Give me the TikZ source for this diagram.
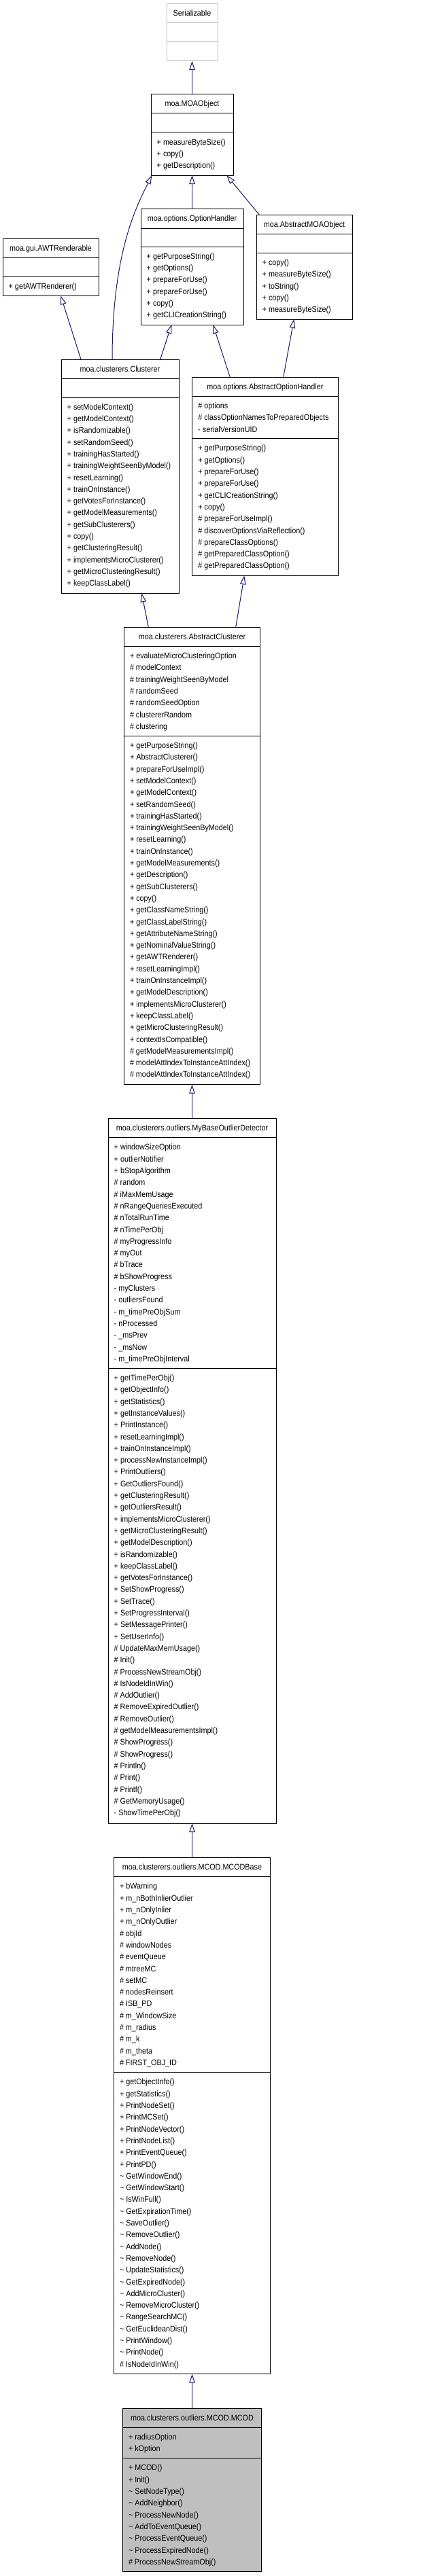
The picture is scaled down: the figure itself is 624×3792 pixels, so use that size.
\documentclass[tikz,border=0pt]{standalone}
\usepackage{fontspec}
\setmainfont{Liberation Sans}[FakeStretch=0.9]
\usetikzlibrary{arrows.meta}
\definecolor{edgeblue}{HTML}{191970}
\definecolor{extgray}{HTML}{BFBFBF}
\newcommand{\tl}{\textasciitilde{} }
\tikzset{
  cls/.style={draw=black, line width=1pt, inner sep=0pt, outer sep=0pt, anchor=north west},
  sepline/.style={draw=black, line width=1pt},
  ttl/.style={anchor=base, inner sep=0pt, font=\fontsize{12}{17.3}\selectfont},
  lst/.style={anchor=north west, inner sep=0pt, align=left, yshift=12.11pt, font=\fontsize{12}{17.3}\selectfont},
  inh/.style={draw=edgeblue, line width=1pt, -{Triangle[open, length=13pt, width=8.5pt]}},
}
\begin{document}
\begin{tikzpicture}[x=1pt, y=-1pt]
\useasboundingbox (0,0) rectangle (624,3792);

% Serializable
\node[cls, draw=extgray, minimum width=75pt, minimum height=84.3pt] (serial) at (245,5.7) {};
\draw[sepline, draw=extgray] (245,33.7) -- (320,33.7);
\draw[sepline, draw=extgray] (245,61.7) -- (320,61.7);
\node[ttl] (serialT) at (282.5,23.7) {Serializable};

% MOAObject
\node[cls, minimum width=121pt, minimum height=119pt] (moaobj) at (222,139) {};
\draw[sepline] (222,167) -- (343,167);
\draw[sepline] (222,195) -- (343,195);
\node[ttl] (moaobjT) at (282.5,157) {moa.MOAObject};
\node[lst] (moaobjM) at (230.5,213) {\strut + measureByteSize()\\+ copy()\\+ getDescription()};

% OptionHandler
\node[cls, minimum width=151pt, minimum height=171pt] (opth) at (207,307) {};
\draw[sepline] (207,336) -- (358,336);
\draw[sepline] (207,363) -- (358,363);
\node[ttl] (opthT) at (282.5,325) {moa.options.OptionHandler};
\node[lst] (opthM) at (215.5,381) {\strut + getPurposeString()\\+ getOptions()\\+ prepareForUse()\\+ prepareForUse()\\+ copy()\\+ getCLICreationString()};

% AbstractMOAObject
\node[cls, minimum width=141pt, minimum height=153.3pt] (amoa) at (377,316.7) {};
\draw[sepline] (377,344.3) -- (518,344.3);
\draw[sepline] (377,372.3) -- (518,372.3);
\node[ttl] (amoaT) at (447.5,334.7) {moa.AbstractMOAObject};
\node[lst] (amoaM) at (385.5,390.3) {\strut + copy()\\+ measureByteSize()\\+ toString()\\+ copy()\\+ measureByteSize()};

% AWTRenderable
\node[cls, minimum width=141pt, minimum height=84.3pt] (awt) at (4,351) {};
\draw[sepline] (4,379) -- (145,379);
\draw[sepline] (4,407.3) -- (145,407.3);
\node[ttl] (awtT) at (74.5,369) {moa.gui.AWTRenderable};
\node[lst] (awtM) at (12.5,425.3) {\strut + getAWTRenderer()};

% Clusterer
\node[cls, minimum width=173pt, minimum height=344.3pt] (clus) at (90,529) {};
\draw[sepline] (90,557) -- (263,557);
\draw[sepline] (90,585) -- (263,585);
\node[ttl] (clusT) at (176.5,547) {moa.clusterers.Clusterer};
\node[lst] (clusM) at (98.5,603) {\strut + setModelContext()\\+ getModelContext()\\+ isRandomizable()\\+ setRandomSeed()\\+ trainingHasStarted()\\+ trainingWeightSeenByModel()\\+ resetLearning()\\+ trainOnInstance()\\+ getVotesForInstance()\\+ getModelMeasurements()\\+ getSubClusterers()\\+ copy()\\+ getClusteringResult()\\+ implementsMicroClusterer()\\+ getMicroClusteringResult()\\+ keepClassLabel()};

% AbstractOptionHandler
\node[cls, minimum width=214.3pt, minimum height=292pt] (aoh) at (282.7,555.3) {};
\draw[sepline] (282.7,583.3) -- (497,583.3);
\draw[sepline] (282.7,645.7) -- (497,645.7);
\node[ttl] (aohT) at (389.85,573.3) {moa.options.AbstractOptionHandler};
\node[lst] (aohA) at (291.2,601.3) {\strut \# options\\\# classOptionNamesToPreparedObjects\\- serialVersionUID};
\node[lst] (aohM) at (291.2,663.7) {\strut + getPurposeString()\\+ getOptions()\\+ prepareForUse()\\+ prepareForUse()\\+ getCLICreationString()\\+ copy()\\\# prepareForUseImpl()\\\# discoverOptionsViaReflection()\\\# prepareClassOptions()\\\# getPreparedClassOption()\\\# getPreparedClassOption()};

% AbstractClusterer
\node[cls, minimum width=200.4pt, minimum height=673.4pt] (acl) at (182.3,923.3) {};
\draw[sepline] (182.3,951.3) -- (382.7,951.3);
\draw[sepline] (182.3,1083.3) -- (382.7,1083.3);
\node[ttl] (aclT) at (282.5,941.3) {moa.clusterers.AbstractClusterer};
\node[lst] (aclA) at (190.8,969.3) {\strut + evaluateMicroClusteringOption\\\# modelContext\\\# trainingWeightSeenByModel\\\# randomSeed\\\# randomSeedOption\\\# clustererRandom\\\# clustering};
\node[lst] (aclM) at (190.8,1101.3) {\strut + getPurposeString()\\+ AbstractClusterer()\\+ prepareForUseImpl()\\+ setModelContext()\\+ getModelContext()\\+ setRandomSeed()\\+ trainingHasStarted()\\+ trainingWeightSeenByModel()\\+ resetLearning()\\+ trainOnInstance()\\+ getModelMeasurements()\\+ getDescription()\\+ getSubClusterers()\\+ copy()\\+ getClassNameString()\\+ getClassLabelString()\\+ getAttributeNameString()\\+ getNominalValueString()\\+ getAWTRenderer()\\+ resetLearningImpl()\\+ trainOnInstanceImpl()\\+ getModelDescription()\\+ implementsMicroClusterer()\\+ keepClassLabel()\\+ getMicroClusteringResult()\\+ contextIsCompatible()\\\# getModelMeasurementsImpl()\\\# modelAttIndexToInstanceAttIndex()\\\# modelAttIndexToInstanceAttIndex()};

% MyBaseOutlierDetector
\node[cls, minimum width=247pt, minimum height=1037.3pt] (mybase) at (159,1646.7) {};
\draw[sepline] (159,1674.7) -- (406,1674.7);
\draw[sepline] (159,2014.3) -- (406,2014.3);
\node[ttl] (mybaseT) at (282.5,1664.7) {moa.clusterers.outliers.MyBaseOutlierDetector};
\node[lst] (mybaseA) at (167.5,1692.7) {\strut + windowSizeOption\\+ outlierNotifier\\+ bStopAlgorithm\\\# random\\\# iMaxMemUsage\\\# nRangeQueriesExecuted\\\# nTotalRunTime\\\# nTimePerObj\\\# myProgressInfo\\\# myOut\\\# bTrace\\\# bShowProgress\\- myClusters\\- outliersFound\\- m\_timePreObjSum\\- nProcessed\\- \_msPrev\\- \_msNow\\- m\_timePreObjInterval};
\node[lst] (mybaseM) at (167.5,2032.3) {\strut + getTimePerObj()\\+ getObjectInfo()\\+ getStatistics()\\+ getInstanceValues()\\+ PrintInstance()\\+ resetLearningImpl()\\+ trainOnInstanceImpl()\\+ processNewInstanceImpl()\\+ PrintOutliers()\\+ GetOutliersFound()\\+ getClusteringResult()\\+ getOutliersResult()\\+ implementsMicroClusterer()\\+ getMicroClusteringResult()\\+ getModelDescription()\\+ isRandomizable()\\+ keepClassLabel()\\+ getVotesForInstance()\\+ SetShowProgress()\\+ SetTrace()\\+ SetProgressInterval()\\+ SetMessagePrinter()\\+ SetUserInfo()\\\# UpdateMaxMemUsage()\\\# Init()\\\# ProcessNewStreamObj()\\\# IsNodeIdInWin()\\\# AddOutlier()\\\# RemoveExpiredOutlier()\\\# RemoveOutlier()\\\# getModelMeasurementsImpl()\\\# ShowProgress()\\\# ShowProgress()\\\# Println()\\\# Print()\\\# Printf()\\\# GetMemoryUsage()\\- ShowTimePerObj()};

% MCODBase
\node[cls, minimum width=230.4pt, minimum height=760pt] (mcodbase) at (167.3,2734.7) {};
\draw[sepline] (167.3,2762.7) -- (397.7,2762.7);
\draw[sepline] (167.3,3050.7) -- (397.7,3050.7);
\node[ttl] (mcodbaseT) at (282.5,2752.7) {moa.clusterers.outliers.MCOD.MCODBase};
\node[lst] (mcodbaseA) at (175.8,2780.7) {\strut + bWarning\\+ m\_nBothInlierOutlier\\+ m\_nOnlyInlier\\+ m\_nOnlyOutlier\\\# objId\\\# windowNodes\\\# eventQueue\\\# mtreeMC\\\# setMC\\\# nodesReinsert\\\# ISB\_PD\\\# m\_WindowSize\\\# m\_radius\\\# m\_k\\\# m\_theta\\\# FIRST\_OBJ\_ID};
\node[lst] (mcodbaseM) at (175.8,3068.7) {\strut + getObjectInfo()\\+ getStatistics()\\+ PrintNodeSet()\\+ PrintMCSet()\\+ PrintNodeVector()\\+ PrintNodeList()\\+ PrintEventQueue()\\+ PrintPD()\\\tl GetWindowEnd()\\\tl GetWindowStart()\\\tl IsWinFull()\\\tl GetExpirationTime()\\\tl SaveOutlier()\\\tl RemoveOutlier()\\\tl AddNode()\\\tl RemoveNode()\\\tl UpdateStatistics()\\\tl GetExpiredNode()\\\tl AddMicroCluster()\\\tl RemoveMicroCluster()\\\tl RangeSearchMC()\\\tl GetEuclideanDist()\\\tl PrintWindow()\\\tl PrintNode()\\\# IsNodeIdInWin()};

% MCOD
\node[cls, fill=extgray, minimum width=204.4pt, minimum height=240.3pt] (mcod) at (180.3,3545) {};
\draw[sepline] (180.3,3573) -- (384.7,3573);
\draw[sepline] (180.3,3618.7) -- (384.7,3618.7);
\node[ttl] (mcodT) at (282.5,3563) {moa.clusterers.outliers.MCOD.MCOD};
\node[lst] (mcodA) at (188.8,3591) {\strut + radiusOption\\+ kOption};
\node[lst] (mcodM) at (188.8,3636.7) {\strut + MCOD()\\+ Init()\\\tl SetNodeType()\\\tl AddNeighbor()\\\tl ProcessNewNode()\\\tl AddToEventQueue()\\\tl ProcessEventQueue()\\\tl ProcessExpiredNode()\\\# ProcessNewStreamObj()};

% inheritance connectors
\draw[inh] (moaobj.north) -- (serial.south);
\draw[inh] (opth.north) -- (moaobj.south);
\draw[inh] ([xshift=4.7pt]amoa.north west) -- ([xshift=111.3pt]moaobj.south west);
\draw[inh] ([xshift=75pt]clus.north west) .. controls +(0,-159) and +(-22,45) .. ([xshift=1.3pt]moaobj.south west);
\draw[inh] ([xshift=29pt]clus.north west) -- ([xshift=85.3pt]awt.south west);
\draw[inh] ([xshift=145.7pt]clus.north west) -- ([xshift=45.3pt]opth.south west);
\draw[inh] ([xshift=55.6pt]aoh.north west) -- ([xshift=106.3pt]opth.south west);
\draw[inh] ([xshift=134pt]aoh.north west) -- ([xshift=55.3pt]amoa.south west);
\draw[inh] ([xshift=36pt]acl.north west) -- ([xshift=118.3pt]clus.south west);
\draw[inh] ([xshift=164.4pt]acl.north west) -- ([xshift=76.6pt]aoh.south west);
\draw[inh] (mybase.north) -- (acl.south);
\draw[inh] (mcodbase.north) -- (mybase.south);
\draw[inh] (mcod.north) -- (mcodbase.south);
\end{tikzpicture}
\end{document}
